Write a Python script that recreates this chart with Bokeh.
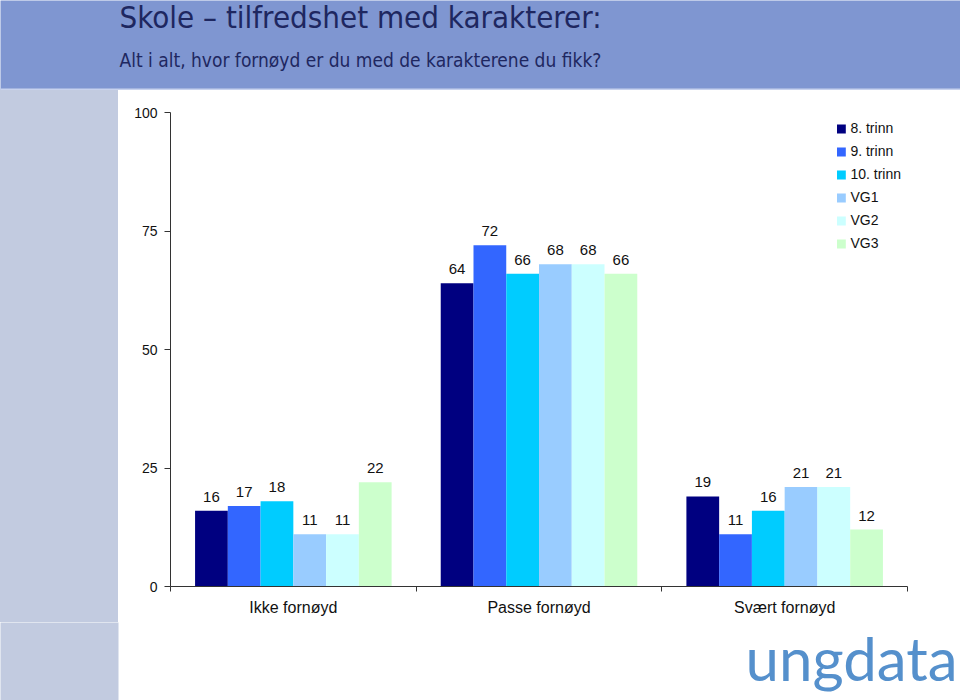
from bokeh.plotting import figure
from bokeh.layouts import column, row
from bokeh.models import Range1d, FixedTicker, Span, ColumnDataSource, BoxAnnotation, Spacer
from bokeh.core.properties import value
from bokeh.embed import file_html
from bokeh.resources import INLINE

# ---- data ----
categories = ["Ikke fornøyd", "Passe fornøyd", "Svært fornøyd"]
series_names = ["8. trinn", "9. trinn", "10. trinn", "VG1", "VG2", "VG3"]
trinn8 = [16, 64, 19]
trinn9 = [17, 72, 11]
trinn10 = [18, 66, 16]
vg1 = [11, 68, 21]
vg2 = [11, 68, 21]
vg3 = [22, 66, 12]
series_values = [trinn8, trinn9, trinn10, vg1, vg2, vg3]
y_ticks = [0, 25, 50, 75, 100]

colors = ["#000080", "#3366FF", "#00CCFF", "#99CCFF", "#CCFFFF", "#CCFFCC"]

title_text = "Skole – tilfredshet med karakterer:"
subtitle_text = "Alt i alt, hvor fornøyd er du med de karakterene du fikk?"
logo_text = "ungdata"

FONT = "Liberation Sans"
HEAD_FONT = "'DejaVu Sans Condensed', 'DejaVu Sans'"
HEADER_BG = "#7F96D1"
STRIP_BG = "#C2CBE0"
NAVY = "#1E2760"

TOTAL_W = 960
HEADER_H = 90
STRIP_W = 118
MAIN_W = TOTAL_W - STRIP_W
MAIN_H = 532
LOGO_H = 700 - HEADER_H - MAIN_H


def bare(fig):
    fig.axis.visible = False
    fig.xgrid.visible = False
    fig.ygrid.visible = False
    fig.outline_line_color = None
    fig.min_border = 0


# ---- header ----
header = figure(width=TOTAL_W, height=HEADER_H, x_range=Range1d(0, TOTAL_W),
                y_range=Range1d(HEADER_H, 0), output_backend="svg",
                toolbar_location=None, background_fill_color=HEADER_BG,
                border_fill_color=HEADER_BG)
bare(header)
header.text(x=[119], y=[16], text=[title_text], text_font=value(HEAD_FONT),
            text_font_size="31px", text_color=NAVY, text_baseline="alphabetic")
header.text(x=[119], y=[59], text=[subtitle_text], text_font=value(HEAD_FONT),
            text_font_size="19px", text_color=NAVY, text_baseline="alphabetic")
header.add_layout(Span(location=HEADER_H - 1, dimension="width",
                       line_color="#C8D2EE", line_width=2))

# ---- left strip ----
strip = Spacer(width=STRIP_W, height=MAIN_H, styles={"background-color": STRIP_BG})

# ---- main chart ----
p = figure(width=MAIN_W, height=MAIN_H, x_range=Range1d(0, len(categories)),
           y_range=Range1d(0, 100), output_backend="svg", toolbar_location=None,
           min_border_left=52, min_border_right=53, min_border_top=22,
           min_border_bottom=36)
p.xgrid.visible = False
p.ygrid.visible = False
p.outline_line_color = None
p.background_fill_color = "white"
p.border_fill_color = "white"

n = len(series_names)
group_frac = 0.8
bar_w = group_frac / n
for j, (name, vals, col) in enumerate(zip(series_names, series_values, colors)):
    xs = [i + 0.5 + (j - (n - 1) / 2) * bar_w for i in range(len(categories))]
    src = ColumnDataSource(dict(x=xs, top=vals, lab=[str(v) for v in vals]))
    p.vbar(x="x", top="top", width=bar_w, source=src, fill_color=col,
           line_color=None, legend_label=name)
    p.text(x="x", y="top", text="lab", source=src, text_align="center",
           text_baseline="bottom", y_offset=-9, text_font=value(FONT),
           text_font_size="15px", text_color="#111111")

# y axis
yax = p.yaxis[0]
yax.ticker = FixedTicker(ticks=y_ticks)
yax.axis_line_color = "#333333"
yax.major_tick_line_color = "#333333"
yax.major_tick_out = 6
yax.major_tick_in = 0
yax.minor_tick_line_color = None
yax.major_label_text_font = FONT
yax.major_label_text_font_size = "14px"
yax.major_label_text_color = "#111111"
yax.major_label_standoff = 7

# x axis: labels at category centres, ticks at boundaries
xax = p.xaxis[0]
centers = [i + 0.5 for i in range(len(categories))]
bounds = list(range(len(categories) + 1))
xax.ticker = FixedTicker(ticks=centers, minor_ticks=bounds)
xax.major_label_overrides = {c: lab for c, lab in zip(centers, categories)}
xax.axis_line_color = "#333333"
xax.major_tick_line_color = None
xax.major_tick_out = 0
xax.major_tick_in = 0
xax.minor_tick_line_color = "#333333"
xax.minor_tick_out = 5
xax.minor_tick_in = 0
xax.major_label_text_font = FONT
xax.major_label_text_font_size = "16px"
xax.major_label_text_color = "#111111"
xax.major_label_standoff = 7

lg = p.legend[0]
lg.location = "top_right"
lg.margin = 6
lg.padding = 4
lg.spacing = 3
lg.glyph_width = 11
lg.glyph_height = 11
lg.label_height = 20
lg.label_standoff = 4
lg.label_text_font = FONT
lg.label_text_font_size = "14px"
lg.label_text_color = "#111111"
lg.border_line_color = None
lg.background_fill_alpha = 0

# ---- bottom band with logo ----
logo = figure(width=TOTAL_W, height=LOGO_H, x_range=Range1d(0, TOTAL_W),
              y_range=Range1d(LOGO_H, 0), output_backend="svg", toolbar_location=None,
              background_fill_color="white", border_fill_color="white")
bare(logo)
logo.add_layout(BoxAnnotation(left=-5, right=STRIP_W, top=-5, bottom=LOGO_H + 5,
                              fill_color=STRIP_BG, fill_alpha=1, line_color=None))
logo.text(x=[745], y=[35], text=[logo_text], text_font=value("Lato"),
          text_font_size="60px", text_color="#5590CC", text_align="left",
          text_baseline="alphabetic")

layout = column(header, row(strip, p), logo)
open("out.html", "w").write(file_html(layout, INLINE))
